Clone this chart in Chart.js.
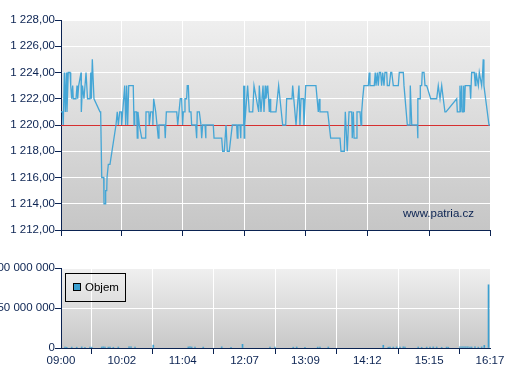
<!DOCTYPE html>
<html><head><meta charset="utf-8">
<script src="https://cdn.jsdelivr.net/npm/chart.js@4.4.1/dist/chart.umd.min.js"></script>
<style>
html,body{margin:0;padding:0;background:#fff;width:507px;height:380px;overflow:hidden}
#c1{position:absolute;left:0;top:0}
#c2{position:absolute;left:0;top:240px}
</style></head><body>
<canvas id="c1" width="507" height="240"></canvas>
<canvas id="c2" width="507" height="140"></canvas>
<script>
// ---- data ----
const timeTickLabels = ['09:00','10:02','11:04','12:07','13:09','14:12','15:15','16:17'];
const priceMin = 1212, priceMax = 1228, priceStep = 2;
const referencePrice = 1220;
const volumeMax = 100000000, volumeStep = 50000000;
const sourceLabel = 'www.patria.cz';
const volumeLabel = 'Objem';

// minutes after 09:00
const priceMinutes = [0,1.7,2.3,3.4,4.4,5.4,6.1,7.4,9.2,9.9,10.9,11.9,12.5,15.3,16.3,17,18,20.4,20.7,21.9,23.4,25.5,27,29.5,30.3,30.9,31.9,33.6,39.7,40.4,41.5,43.5,43.8,45.1,45.5,46.6,46.9,48.2,49.9,56,57.3,58.4,59.8,61.4,61.8,64.9,65.9,66.9,67.9,69,73.6,74.4,75.1,77.1,77.7,78.4,79.8,82.2,86.3,86.6,89.6,89.9,91.4,93.4,93.6,94.4,96.5,99.1,99.8,105.6,106.2,107.3,117.9,118.9,121.5,122.9,123.9,124.6,125.6,126.3,128,128.6,129.7,130.7,132.4,133.1,137.2,138.2,138.8,140.9,142.6,143.3,144.3,146.7,147.4,147.7,155.1,155.9,163.7,164.7,166.3,168.1,169.4,171.4,174.5,178.9,179.6,180.3,182.3,183.1,183.4,185.7,186.1,186.6,186.9,187.4,190.1,191.8,195.3,196.6,201.4,202,203.7,205.8,206.8,208.1,208.8,210.6,212.2,212.9,213.6,219,221.7,225.8,228.9,229.9,235.3,236,239.4,242.4,243.4,244.5,246.8,247.5,249.3,259.7,262.1,263.1,263.8,271.7,274.7,284.2,285.2,288.6,289.6,291.6,293.4,296.1,296.7,297.8,298.5,301.2,301.5,304.6,305.6,306.3,307.3,308.6,313,314,314.7,319.1,320.1,320.9,322.2,323.2,324.2,325.6,326.6,327.7,329,330,331.8,332.4,334.4,335.9,336.9,338.5,343.6,344.6,348.7,349.4,352.8,355.5,355.8,357.3,363,363.4,363.6,365.7,366,367.4,368,369.8,370.8,372.5,376.6,382.7,384.3,386.1,387.8,389.4,391.1,392.2,403.1,403.7,405.7,406.4,407.1,408.2,408.8,409.8,410.2,410.8,411.5,411.8,413.2,416.6,417.3,418.3,421,422,422.7,425.1,426.1,428.5,429.5,430.1,430.8,436,437];
const priceValues = [1221,1221,1220,1224,1221,1224,1221,1224,1224,1223,1222,1223,1222,1222,1223,1222,1223,1224,1221,1223,1222,1224,1222,1222,1224,1222,1225,1222,1221,1221,1216,1216,1214,1214,1215,1215,1216,1217,1217,1220,1221,1220,1221,1221,1220,1223,1220,1223,1220,1223,1223,1220,1221,1221,1219,1221,1220,1219,1219,1221,1221,1220,1221,1221,1220,1222,1221,1219,1220,1220,1219,1221,1221,1220,1222,1222,1220,1221,1221,1222,1222,1223,1223,1221,1221,1220,1220,1219,1221,1221,1220,1219,1220,1220,1219,1220,1220,1219,1219,1218,1218,1220,1218,1218,1220,1220,1219,1220,1220,1219,1220,1220,1223,1219,1223,1220,1223,1221,1221,1223,1221,1223,1221,1223,1221,1223,1222,1223,1221,1222,1221,1221,1223,1220,1220,1222,1222,1223,1220,1223,1220,1222,1222,1220,1223,1223,1221,1222,1221,1221,1219,1219,1218,1218,1221,1218,1221,1221,1219,1221,1219,1219,1221,1221,1220,1221,1222,1223,1223,1224,1223,1223,1224,1223,1224,1223,1224,1224,1223,1224,1223,1224,1224,1223,1223,1224,1224,1223,1223,1224,1224,1223,1220,1220,1223,1220,1220,1219,1222,1222,1223,1223,1224,1224,1223,1223,1222,1222,1223,1222,1223,1222,1221,1221,1222,1221,1221,1223,1221,1223,1221,1221,1223,1221,1221,1223,1223,1223,1222,1224,1224,1223,1224,1223,1224,1223,1224,1225,1223,1220,1220];

const volumeMinutes = [4.1,5.8,10.9,16,21.1,24.4,29.5,31.3,41.5,43.1,44.8,48.2,49.9,53.3,58.4,69.3,71.3,75.4,94,129.7,131.4,133.1,136.5,144.9,163.7,173.2,184.9,212.9,218,236.6,240.1,248.5,261.5,263.8,272.3,328.3,333.4,335.1,338.5,341.9,345.3,348.7,350.4,363.9,367.4,372.5,375.9,379.2,382.7,387.8,392.8,394.5,406.4,408.5,410.5,412.5,414.5,416.6,418.3,421.7,425.1,428.5,431.2,435.5];
const volumeValues = [1200000,900000,1100000,1000000,1300000,900000,1100000,1000000,1200000,1400000,1000000,1100000,1300000,900000,1200000,1500000,1400000,1200000,3600000,1300000,1500000,1200000,1000000,1100000,1400000,900000,4600000,1000000,1100000,1000000,1200000,900000,1100000,1000000,1200000,3400000,1000000,1200000,1100000,1300000,1000000,1400000,1100000,1200000,900000,1100000,1000000,1300000,1200000,900000,1100000,1000000,1600000,1500000,1600000,1400000,1500000,1300000,1200000,1400000,1100000,1300000,3200000,79000000];

// ---- helpers ----
const NAVY = '#0b2352';
const FONT = {family: 'Liberation Sans, Arial, sans-serif', size: 11.5};
function toMinutes(s){const [h,m]=s.split(':').map(Number);return h*60+m;}
const dayStart = toMinutes(timeTickLabels[0]);
const timeTickPositions = timeTickLabels.map(s => toMinutes(s) - dayStart);
const timeMax = timeTickPositions[timeTickPositions.length-1];
function groupDigits(intStr){return intStr.replace(/\B(?=(\d{3})+(?!\d))/g,' ');}
function fmtPrice(v){const p=v.toFixed(2).split('.');return groupDigits(p[0])+','+p[1];}
function fmtVol(v){return groupDigits(String(Math.round(v)));}

const bgPlugin = {
  id:'plotBg',
  beforeDraw(chart, args, opts){
    const a = chart.chartArea, ctx = chart.ctx;
    const g = ctx.createLinearGradient(0,a.top,0,a.bottom);
    g.addColorStop(0, opts.top); g.addColorStop(1, opts.bottom);
    ctx.save(); ctx.fillStyle = g;
    ctx.fillRect(a.left, a.top, a.right-a.left, a.bottom-a.top);
    ctx.restore();
  }
};

// reference price line, positioned through the y scale, drawn crisp beneath the price line
const refLinePlugin = {
  id:'refLine',
  beforeDatasetsDraw(chart){
    const a = chart.chartArea, ctx = chart.ctx;
    const y = Math.round(chart.scales.y.getPixelForValue(referencePrice)) + 0.5;
    ctx.save(); ctx.strokeStyle = '#d63030'; ctx.lineWidth = 1;
    ctx.beginPath(); ctx.moveTo(a.left, y); ctx.lineTo(a.right, y); ctx.stroke();
    ctx.restore();
  }
};

function xScale(showLabels, height){
  return {
    type:'linear', min:0, max:timeMax,
    afterBuildTicks: s => { s.ticks = timeTickPositions.map(v => ({value:v})); },
    afterFit: s => { s.height = height; },
    grid:{color:'#ffffff', lineWidth:1, drawTicks:true, tickLength:6, tickColor:NAVY},
    border:{display:true, color:NAVY, width:1},
    ticks:{display:showLabels, color:NAVY, font:FONT, padding:0, maxRotation:0, autoSkip:false,
      callback:(v,i)=>timeTickLabels[i]}
  };
}

// ---- price chart ----
new Chart(document.getElementById('c1'), {
  type:'line',
  data:{datasets:[
    {label:'Cena', data: priceMinutes.map((m,i)=>({x:m,y:priceValues[i]})),
     borderColor:'#45a6d6', borderWidth:1.3, pointRadius:0, tension:0, fill:false}
  ]},
  options:{
    responsive:false, animation:false, devicePixelRatio:1,
    layout:{padding:{top:20,right:17,left:0,bottom:0}},
    plugins:{legend:{display:false}, tooltip:{enabled:false},
      plotBg:{top:'#efefef', bottom:'#c6c6c6'}},
    scales:{
      x: xScale(false, 10),
      y:{min:priceMin, max:priceMax,
        afterFit: s => { s.width = 61; },
        grid:{color:'#ffffff', lineWidth:1, drawTicks:true, tickLength:6, tickColor:NAVY},
        border:{display:true, color:NAVY, width:1},
        ticks:{stepSize:priceStep, color:NAVY, font:FONT, padding:0, callback:v=>fmtPrice(v)}}
    }
  },
  plugins:[bgPlugin, refLinePlugin, {
    id:'source',
    afterDraw(chart){
      const a = chart.chartArea, ctx = chart.ctx;
      ctx.save(); ctx.fillStyle = NAVY; ctx.font = '11.5px "Liberation Sans", Arial, sans-serif';
      ctx.textAlign='right'; ctx.textBaseline='middle';
      ctx.fillText(sourceLabel, a.right-16, a.bottom-16);
      ctx.restore();
    }
  }]
});

// ---- volume chart ----
new Chart(document.getElementById('c2'), {
  type:'bar',
  data:{datasets:[
    {label:volumeLabel, data: volumeMinutes.map((m,i)=>({x:m,y:volumeValues[i]})),
     backgroundColor:'#3a9fd0', borderWidth:0, barThickness:1, grouped:false}
  ]},
  options:{
    responsive:false, animation:false, devicePixelRatio:1,
    layout:{padding:{top:28,right:17,left:0,bottom:0}},
    plugins:{legend:{display:false}, tooltip:{enabled:false},
      plotBg:{top:'#f0f0f0', bottom:'#c8c8c8'}},
    scales:{
      x: Object.assign(xScale(true, 32), {offset:false}),
      y:{min:0, max:volumeMax,
        afterFit: s => { s.width = 61; },
        grid:{color:'#ffffff', lineWidth:1, drawTicks:true, tickLength:6, tickColor:NAVY},
        border:{display:true, color:NAVY, width:1},
        ticks:{stepSize:volumeStep, color:NAVY, font:FONT, padding:0, callback:v=>fmtVol(v)}}
    }
  },
  plugins:[bgPlugin, {
    id:'boxLegend',
    afterDraw(chart){
      const a = chart.chartArea, ctx = chart.ctx;
      const ds = chart.data.datasets[0];
      const L = a.left+4, T = a.top+5;
      ctx.save();
      ctx.strokeStyle='#000'; ctx.lineWidth=1;
      ctx.strokeRect(L+0.5, T+0.5, 60, 28);
      ctx.fillStyle = ds.backgroundColor;
      ctx.fillRect(L+8, T+10, 7, 7);
      ctx.strokeRect(L+8.5, T+10.5, 7, 7);
      ctx.fillStyle='#000'; ctx.font='11.5px "Liberation Sans", Arial, sans-serif';
      ctx.textAlign='left'; ctx.textBaseline='middle';
      ctx.fillText(ds.label, L+20, T+15);
      ctx.restore();
    }
  }]
});
</script>
</body></html>
